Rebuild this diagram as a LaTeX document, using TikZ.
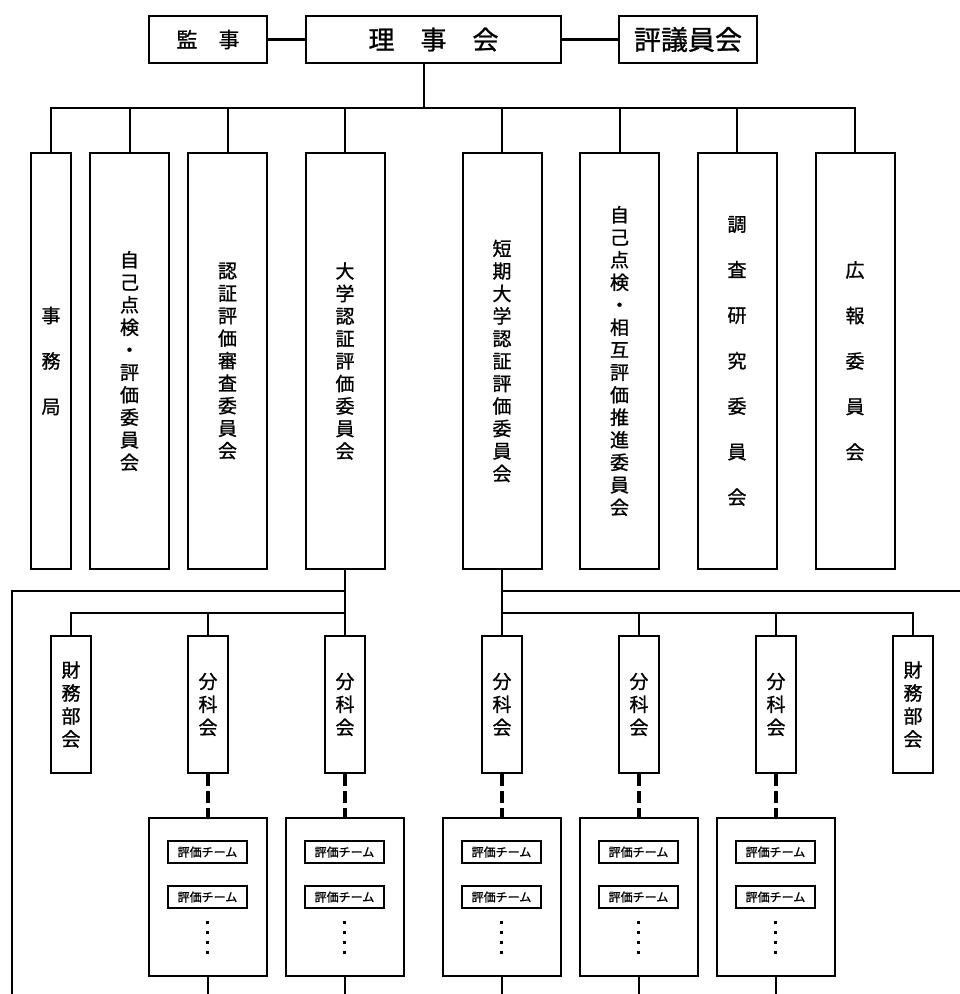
\documentclass[tikz,border=0pt]{standalone}
\usepackage{fontspec}
\newfontfamily\jpfont[FakeBold=1]{Noto Sans CJK JP}
\usetikzlibrary{calc}

\begin{document}
\begin{tikzpicture}[x=1pt,y=-1pt,line width=2pt,
        box/.style={draw,line width=2pt,inner sep=0pt,align=center,font=\jpfont},
        teambox/.style={draw,line width=2pt,minimum width=79pt,minimum height=22pt,inner sep=0pt,font=\jpfont\fontsize{12}{12}\selectfont},
        dashlink/.style={line width=4pt,dash pattern=on 12pt off 5pt}]
            \useasboundingbox (0,0) rectangle (960,994);

            % top row
            \node[box,minimum width=118pt,minimum height=47pt,font=\jpfont\fontsize{21}{21}\selectfont] (kanji) at (208,39.5) {監　事};
            \node[box,minimum width=255pt,minimum height=47pt,font=\jpfont\fontsize{26}{26}\selectfont] (riji) at (433.5,39.5) {理　事　会};
            \node[box,minimum width=138pt,minimum height=47pt,font=\jpfont\fontsize{27}{27}\selectfont] (hyogi) at (688,39.5) {評議員会};
            \draw[line width=2.5pt] (kanji) -- (riji);
            \draw[line width=2.5pt] (riji) -- (hyogi);

            \coordinate (bus) at (424,108);
            \draw (bus |- riji.south) -- (bus);

            % committees
            \foreach \n/\x/\w/\s/\t in {jimu/51/40/45.5/{事\\務\\局},
                    jiko/129.5/79/22.5/{自\\己\\点\\検\\・\\評\\価\\委\\員\\会},
                    nintei/227.5/79/22.5/{認\\証\\評\\価\\審\\査\\委\\員\\会},
                    daigaku/345/79/22.5/{大\\学\\認\\証\\評\\価\\委\\員\\会},
                    tanki/502/79/22.5/{短\\期\\大\\学\\認\\証\\評\\価\\委\\員\\会},
                    sogo/619.5/79/22.5/{自\\己\\点\\検\\・\\相\\互\\評\\価\\推\\進\\委\\員\\会},
                    chosa/737/79/45.5/{調\\査\\研\\究\\委\\員\\会},
                    koho/855/79/45.5/{広\\報\\委\\員\\会}}{
                \node[box,minimum width=\w pt,minimum height=416pt,font=\jpfont\fontsize{19}{\s}\selectfont] (\n) at (\x,361) {\t};
                \draw (\n.north) -- (\n.north |- bus);
            }
            \draw (jimu.north) -- (jimu.north |- bus) -- (koho.north |- bus) -- (koho.north);

            % sub groups
            \coordinate (lbus) at (12,591);
            \coordinate (rbus) at (960,591);
            \coordinate (sbus) at (0,613);
            \coordinate (floor) at (0,994);

            \foreach \n/\x/\t in {z1/71/{財\\務\\部\\会}, b1/208/{分\\科\\会}, b2/345/{分\\科\\会},
                    b3/502/{分\\科\\会}, b4/639/{分\\科\\会}, b5/776/{分\\科\\会}, z2/913/{財\\務\\部\\会}}{
                \node[box,minimum width=40pt,minimum height=137pt,font=\jpfont\fontsize{19}{23}\selectfont] (\n) at (\x,704.5) {\t};
            }

            \draw (lbus |- floor) -- (lbus) -- (lbus -| daigaku.south);
            \draw (tanki.south |- rbus) -- (rbus);
            \draw (daigaku.south) -- (b2.north);
            \draw (tanki.south) -- (b3.north);
            \draw (z1.north) |- (b2.north |- sbus);
            \draw (b1.north) -- (b1.north |- sbus);
            \draw (z2.north) |- (b3.north |- sbus);
            \draw (b4.north) -- (b4.north |- sbus);
            \draw (b5.north) -- (b5.north |- sbus);

            % teams
            \foreach \i/\x in {1/208,2/345,3/502,4/639,5/776}{
                \node[box,minimum width=118pt,minimum height=158pt] (t\i) at (\x,897) {};
                \node[teambox] (ta\i) at (\x-0.5,852) {評価チーム};
                \node[teambox] (tb\i) at (\x-0.5,897) {評価チーム};
                \foreach \k in {0,...,3}{
                    \fill (\x-2.5,920.5+10*\k) rectangle ++(3,3);
                }
                \draw[dashlink] (b\i.south) -- (t\i.north);
                \draw (t\i.south) -- (t\i.south |- floor);
            }
        \end{tikzpicture}
\end{document}
